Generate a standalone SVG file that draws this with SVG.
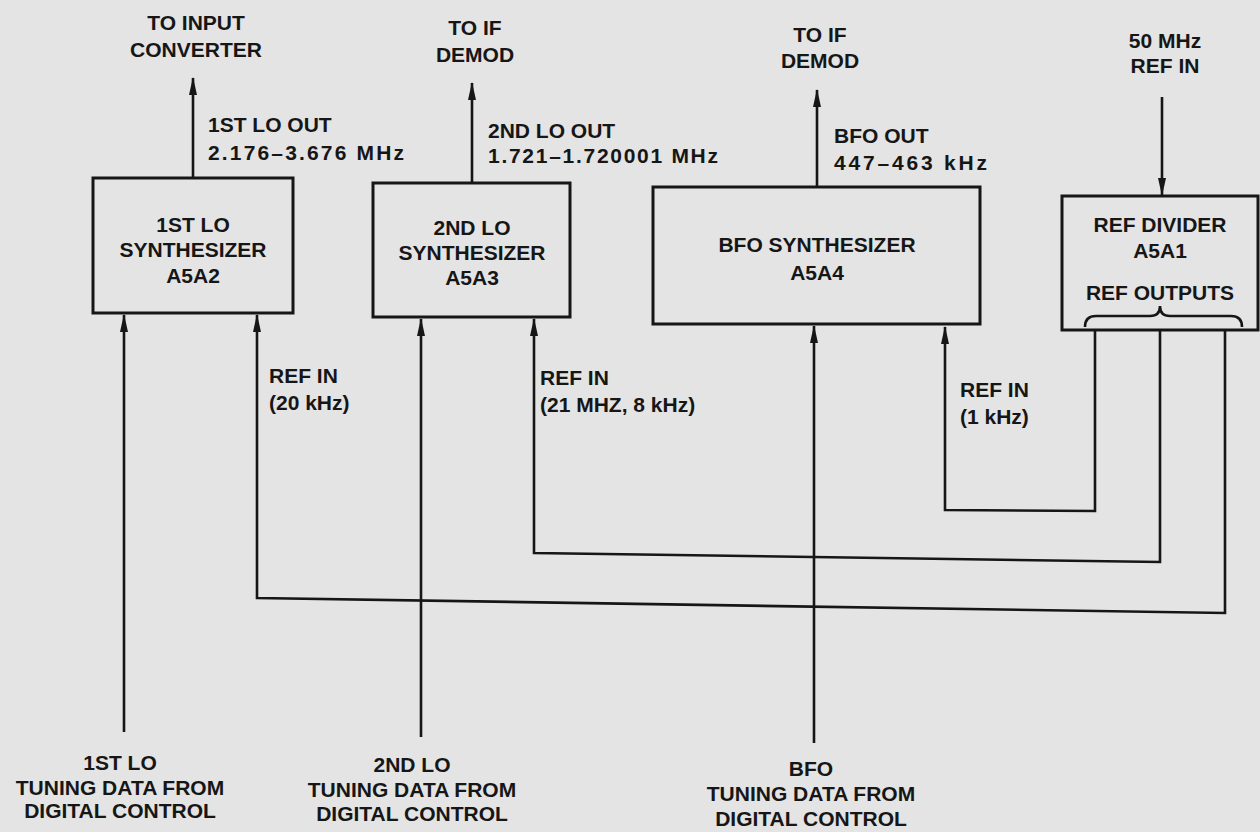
<svg xmlns="http://www.w3.org/2000/svg" width="1260" height="832" viewBox="0 0 1260 832">
<defs>
<style>
text{font-family:"Liberation Sans",Arial,sans-serif;font-weight:bold;font-size:21px;fill:#161616}
.c{text-anchor:middle}
.box{fill:none;stroke:#161616;stroke-width:3}
.ln{fill:none;stroke:#161616;stroke-width:2.6}
</style>
<marker id="ah" markerUnits="userSpaceOnUse" markerWidth="18" markerHeight="10" viewBox="0 0 18 10" refX="17" refY="5" orient="auto">
<path d="M0,1 L18,5 L0,9 Z" fill="#161616"/>
</marker>
</defs>
<rect width="1260" height="832" fill="#e4e4e4"/>

<g id="connectors">
<path class="ln" d="M193,178 L193,78" marker-end="url(#ah)"/>
<path class="ln" d="M472,183 L472,83" marker-end="url(#ah)"/>
<path class="ln" d="M817,187 L817,90" marker-end="url(#ah)"/>
<path class="ln" d="M1162,97 L1162,195" marker-end="url(#ah)"/>
<path class="ln" d="M124,732 L124,315" marker-end="url(#ah)"/>
<path class="ln" d="M421,737 L421,319" marker-end="url(#ah)"/>
<path class="ln" d="M814,743 L814,326" marker-end="url(#ah)"/>
<path class="ln" d="M1095,330 L1095,511 L945,510 L945,327" marker-end="url(#ah)"/>
<path class="ln" d="M1160,331 L1160,562 L534,553 L534,319" marker-end="url(#ah)"/>
<path class="ln" d="M1225,331 L1225,613 L257,598 L257,315" marker-end="url(#ah)"/>
<path class="ln" d="M1085,327 Q1085,316 1096,316 L1150,316 Q1160,316 1160,306 Q1160,316 1170,316 L1231,316 Q1242,316 1242,327"/>
</g>

<g id="lo1">
<rect class="box" x="93" y="178" width="200" height="135"/>
<text class="c" x="193" y="232">1ST LO</text>
<text class="c" x="193" y="257">SYNTHESIZER</text>
<text class="c" x="193" y="283">A5A2</text>
</g>
<g id="lo2">
<rect class="box" x="373" y="183" width="197" height="134"/>
<text class="c" x="472" y="235">2ND LO</text>
<text class="c" x="472" y="260">SYNTHESIZER</text>
<text class="c" x="472" y="285">A5A3</text>
</g>
<g id="bfo">
<rect class="box" x="653" y="187" width="327" height="137"/>
<text class="c" x="817" y="252">BFO SYNTHESIZER</text>
<text class="c" x="817" y="280">A5A4</text>
</g>
<g id="refdiv">
<rect class="box" x="1062" y="196" width="196" height="134"/>
<text class="c" x="1160" y="232">REF DIVIDER</text>
<text class="c" x="1160" y="258">A5A1</text>
<text class="c" x="1160" y="300">REF OUTPUTS</text>
</g>

<g id="labels">
<text class="c" x="196" y="30">TO INPUT</text>
<text class="c" x="196" y="57">CONVERTER</text>
<text class="c" x="475" y="35">TO IF</text>
<text class="c" x="475" y="62">DEMOD</text>
<text class="c" x="820" y="42">TO IF</text>
<text class="c" x="820" y="68">DEMOD</text>
<text class="c" x="1165" y="48">50 MHz</text>
<text class="c" x="1165" y="73">REF IN</text>

<text x="208" y="132">1ST LO OUT</text>
<text x="208" y="160" textLength="196" lengthAdjust="spacing">2.176–3.676 MHz</text>
<text x="488" y="138">2ND LO OUT</text>
<text x="488" y="163" textLength="230" lengthAdjust="spacing">1.721–1.720001 MHz</text>
<text x="834" y="143">BFO OUT</text>
<text x="834" y="170" textLength="153" lengthAdjust="spacing">447–463 kHz</text>

<text x="269" y="383">REF IN</text>
<text x="269" y="410">(20 kHz)</text>
<text x="540" y="385">REF IN</text>
<text x="540" y="412">(21 MHZ, 8 kHz)</text>
<text x="960" y="397">REF IN</text>
<text x="960" y="424">(1 kHz)</text>

<text class="c" x="120" y="770">1ST LO</text>
<text class="c" x="120" y="795">TUNING DATA FROM</text>
<text class="c" x="120" y="818">DIGITAL CONTROL</text>
<text class="c" x="412" y="772">2ND LO</text>
<text class="c" x="412" y="797">TUNING DATA FROM</text>
<text class="c" x="412" y="821">DIGITAL CONTROL</text>
<text class="c" x="811" y="776">BFO</text>
<text class="c" x="811" y="801">TUNING DATA FROM</text>
<text class="c" x="811" y="826">DIGITAL CONTROL</text>
</g>
</svg>
